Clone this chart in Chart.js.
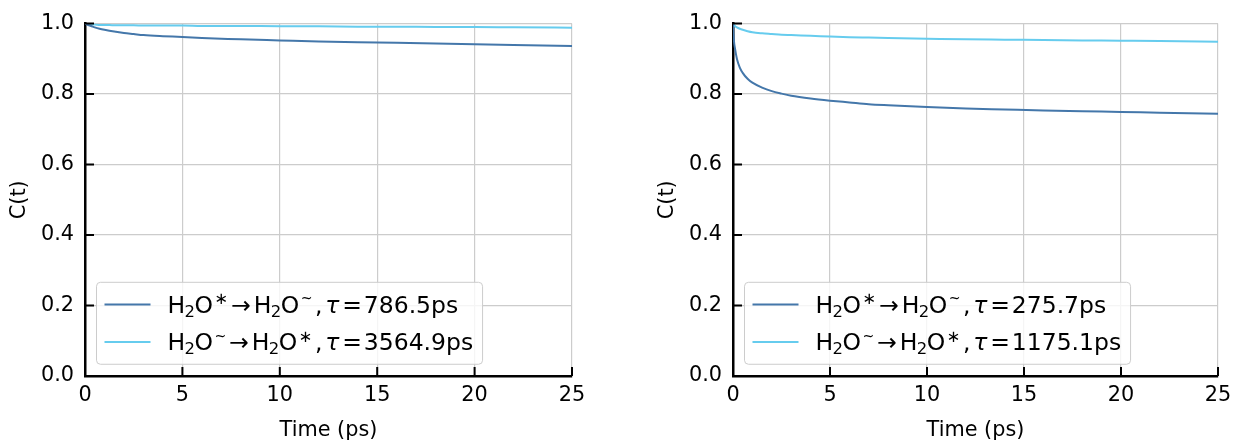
<!DOCTYPE html>
<html>
<head>
<meta charset="utf-8">
<script src="https://cdn.jsdelivr.net/npm/chart.js@4.4.1/dist/chart.umd.min.js"></script>
<style>
  body { margin: 0; background: #fff; }
  #wrap { position: relative; width: 1245px; height: 442px; }
  canvas { position: absolute; top: 0; }
  #leftChart  { left: 0; }
  #rightChart { left: 648px; }
</style>
</head>
<body>
<div id="wrap">
  <canvas id="leftChart"  width="600" height="442"></canvas>
  <canvas id="rightChart" width="597" height="442"></canvas>
</div>
<script>
/* ---------- DATA ---------- */
const times = [0, 0.05, 0.1, 0.2, 0.35, 0.5, 0.75, 1, 1.5, 2, 2.5, 3, 4, 5, 6, 7, 8, 10, 12, 14, 16, 18, 20, 22, 25];

// left panel
const leftStarToTilde = [1.0, 0.999, 0.997, 0.995, 0.992, 0.989, 0.985, 0.982, 0.977, 0.973, 0.970, 0.967, 0.964,
                         0.962, 0.959, 0.957, 0.955, 0.952, 0.949, 0.947, 0.945, 0.943, 0.941, 0.939, 0.936];
const leftTildeToStar = [1.0, 0.999, 0.999, 0.998, 0.997, 0.997, 0.996, 0.996, 0.995, 0.995, 0.995, 0.994, 0.994,
                         0.994, 0.993, 0.993, 0.993, 0.992, 0.992, 0.991, 0.991, 0.990, 0.990, 0.989, 0.988];
// right panel
const rightStarToTilde = [1.0, 0.950, 0.930, 0.900, 0.875, 0.860, 0.843, 0.832, 0.818, 0.808, 0.801, 0.795, 0.787,
                          0.781, 0.776, 0.771, 0.768, 0.763, 0.759, 0.756, 0.753, 0.751, 0.749, 0.747, 0.744];
const rightTildeToStar = [1.0, 0.996, 0.993, 0.989, 0.985, 0.982, 0.978, 0.975, 0.972, 0.970, 0.968, 0.967, 0.965,
                          0.963, 0.961, 0.960, 0.959, 0.957, 0.955, 0.954, 0.953, 0.952, 0.951, 0.950, 0.948];

// legend labels, "_x" = subscript, "^x" = superscript
const leftLabels  = ["H_2O^\u2217\u2192H_2O^~,\u03c4=786.5ps",  "H_2O^~\u2192H_2O^\u2217,\u03c4=3564.9ps"];
const rightLabels = ["H_2O^\u2217\u2192H_2O^~,\u03c4=275.7ps",  "H_2O^~\u2192H_2O^\u2217,\u03c4=1175.1ps"];

const xTickValues = [0, 5, 10, 15, 20, 25];
const yTickValues = [0, 0.2, 0.4, 0.6, 0.8, 1.0];

/* ---------- STYLE ---------- */
const DARK  = "#4477aa";
const LIGHT = "#66ccee";
const FONT  = '"DejaVu Sans"';
const TICK_FS = 20.8;
const LEG_FS  = 23.5;

/* ---------- MATHTEXT-ISH LAYOUT ---------- */
// rough imitation of matplotlib mathtext spacing (values in em)
function layoutMath(ctx, str, fs) {
  const parts = [];
  let x = 0;
  const f = (scale, style = "") => `${style}${fs * scale}px ${FONT}`;
  const add = (text, font, dy) => {
    ctx.font = font;
    parts.push({ text, font, x, dy });
    x += ctx.measureText(text).width;
  };
  for (let i = 0; i < str.length; i++) {
    const c = str[i];
    if (c === "_") {
      x -= fs * 0.03;
      add(str[++i], f(0.7), fs * 0.18);
      x -= fs * 0.02;
    } else if (c === "^") {
      const s = str[++i];
      x += fs * 0.07;
      if (s === "~") add(s, f(0.6), -fs * 0.4);
      else           add(s, f(0.7), -fs * 0.36);
    } else if (c === "\u2192") {
      x += fs * 0.12;
      add(c, f(1), 0);
      x += fs * 0.12;
    } else if (c === "=") {
      x += fs * 0.12;
      add(c, f(1), 0);
      x += fs * 0.08;
    } else if (c === ",") {
      x += fs * 0.1;
      add(c, f(1), 0);
      x += fs * 0.12;
    } else if (c === "\u03c4") {
      add(c, f(1, "italic "), 0);
    } else {
      add(c, f(1), 0);
    }
  }
  return { parts, width: x };
}

/* ---------- PLUGINS ---------- */
// inward tick marks on left & bottom spines
const inwardTicks = {
  id: "inwardTicks",
  afterDraw(chart) {
    const ctx = chart.ctx, a = chart.chartArea;
    const len = 9;
    ctx.save();
    ctx.strokeStyle = "#000";
    ctx.lineWidth = 2;
    ctx.beginPath();
    chart.scales.x.ticks.forEach(t => {
      const px = chart.scales.x.getPixelForValue(t.value);
      ctx.moveTo(px, a.bottom); ctx.lineTo(px, a.bottom - len);
    });
    chart.scales.y.ticks.forEach(t => {
      const py = chart.scales.y.getPixelForValue(t.value);
      ctx.moveTo(a.left, py); ctx.lineTo(a.left + len, py);
    });
    ctx.stroke();
    ctx.restore();
  }
};

// legend box in lower left with sub/superscripts
const mathLegend = {
  id: "mathLegend",
  afterDraw(chart) {
    const ctx = chart.ctx, a = chart.chartArea;
    const rows = chart.data.datasets.map(ds => ({ color: ds.borderColor, ...layoutMath(ctx, ds.label, LEG_FS) }));
    const pad = 9.4, rowH = 25.7, gap = 11.75;
    const textW = Math.max(...rows.map(r => r.width));
    const boxL = a.left + 11.5;
    const boxH = pad * 2 + rowH * rows.length + gap * (rows.length - 1);
    const boxT = a.bottom - 11.75 - boxH;
    const textX = boxL + 71;
    const boxW = textX - boxL + textW + pad;

    ctx.save();
    ctx.beginPath();
    ctx.roundRect(boxL, boxT, boxW, boxH, 4);
    ctx.fillStyle = "rgba(255,255,255,0.8)";
    ctx.fill();
    ctx.strokeStyle = "#cccccc";
    ctx.lineWidth = 1;
    ctx.stroke();

    rows.forEach((r, i) => {
      const cy = boxT + pad + rowH / 2 + i * (rowH + gap);
      ctx.strokeStyle = r.color;
      ctx.lineWidth = 2;
      ctx.beginPath();
      ctx.moveTo(boxL + 8, cy); ctx.lineTo(boxL + 54, cy);
      ctx.stroke();
      ctx.fillStyle = "#000";
      ctx.textBaseline = "alphabetic";
      ctx.textAlign = "left";
      r.parts.forEach(p => {
        ctx.font = p.font;
        ctx.fillText(p.text, textX + p.x, cy + 8 + p.dy);
      });
    });
    ctx.restore();
  }
};

/* ---------- CHART BUILDER ---------- */
function toPoints(vals) {
  return times.map((t, i) => ({ x: t, y: vals[i] }));
}

function makeChart(id, series, labels, padRight) {
  const colors = [DARK, LIGHT];
  return new Chart(document.getElementById(id), {
    type: "line",
    data: {
      datasets: series.map((s, i) => ({
        label: labels[i],
        data: toPoints(s),
        borderColor: colors[i],
        borderWidth: 2,
        pointRadius: 0,
        fill: false,
        cubicInterpolationMode: "monotone"
      }))
    },
    options: {
      responsive: false,
      animation: false,
      events: [],
      layout: { padding: { top: 14, right: padRight, left: 0, bottom: 0 } },
      plugins: { legend: { display: false }, tooltip: { enabled: false } },
      scales: {
        x: {
          type: "linear", min: 0, max: 25,
          afterBuildTicks: s => { s.ticks = xTickValues.map(v => ({ value: v })); },
          afterFit: s => { s.height = 66; },
          ticks: { color: "#000", font: { family: FONT, size: TICK_FS }, padding: 7, maxRotation: 0 },
          grid: { color: "#cccccc", lineWidth: 1.2, drawTicks: false },
          border: { color: "#000", width: 2.5 },
          title: { display: true, text: "Time (ps)", color: "#000",
                   font: { family: FONT, size: TICK_FS, lineHeight: 1 }, padding: { top: 0, bottom: 1 } }
        },
        y: {
          min: 0, max: 1,
          afterBuildTicks: s => { s.ticks = yTickValues.map(v => ({ value: v })); },
          afterFit: s => { s.width = 85; },
          ticks: { color: "#000", font: { family: FONT, size: TICK_FS }, padding: 11,
                   callback: v => v.toFixed(1) },
          grid: { color: "#cccccc", lineWidth: 1.2, drawTicks: false },
          border: { color: "#000", width: 2.5 },
          title: { display: true, text: "C(t)", color: "#000",
                   font: { family: FONT, size: TICK_FS, lineHeight: 1 }, padding: { top: 9.6, bottom: 0 } }
        }
      }
    },
    plugins: [inwardTicks, mathLegend]
  });
}

/* ---------- INITIAL LOAD ---------- */
makeChart("leftChart",  [leftStarToTilde,  leftTildeToStar],  leftLabels,  28);
makeChart("rightChart", [rightStarToTilde, rightTildeToStar], rightLabels, 27);
</script>
</body>
</html>
